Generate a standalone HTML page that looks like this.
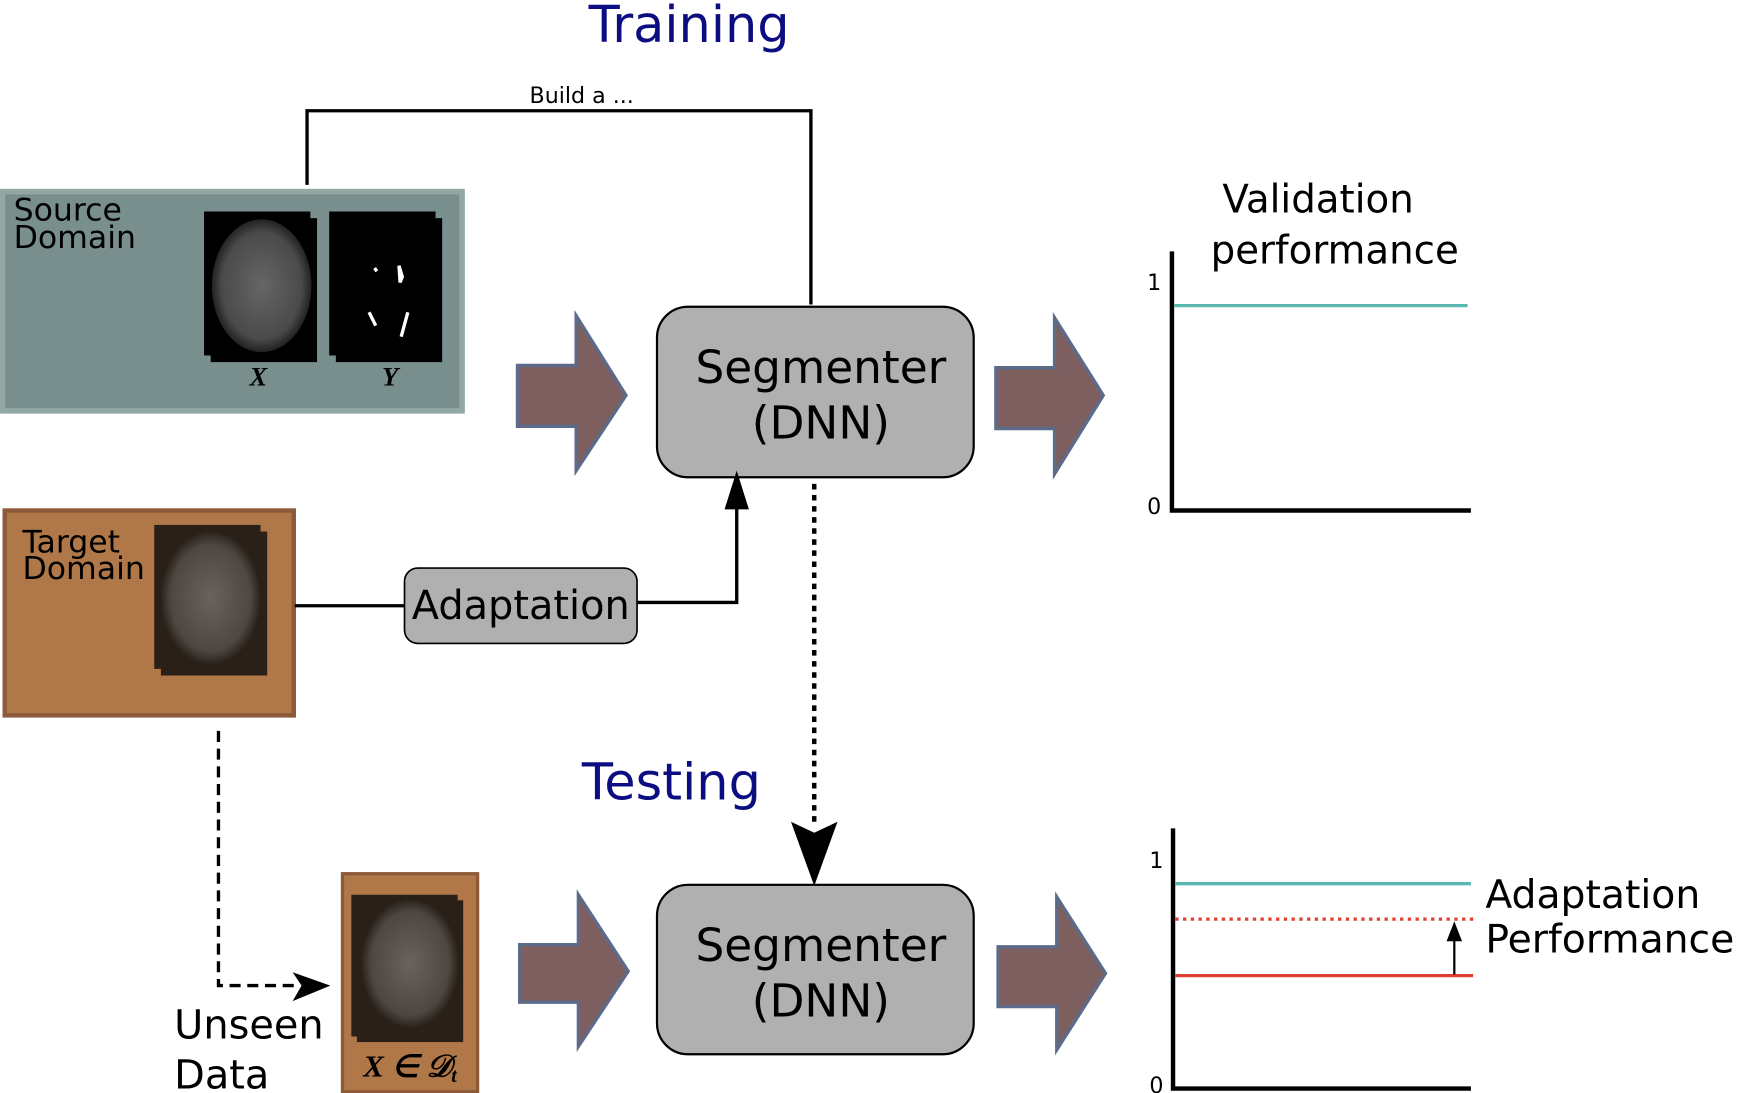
<!DOCTYPE html>
<html><head><meta charset="utf-8"><style>html,body{margin:0;padding:0;background:#fff}svg{display:block}</style></head>
<body>
<svg width="1737" height="1093" viewBox="0 0 1568 987" xmlns="http://www.w3.org/2000/svg" font-family="DejaVu Sans, Liberation Sans, sans-serif">
<defs>
<radialGradient id="br" cx="50%" cy="50%" r="50%"><stop offset="0" stop-color="#666"/><stop offset="0.8" stop-color="#4a4a4a"/><stop offset="1" stop-color="#222"/></radialGradient>
<radialGradient id="brt" cx="50%" cy="50%" r="50%"><stop offset="0" stop-color="#6a625c"/><stop offset="0.8" stop-color="#4e4740"/><stop offset="1" stop-color="#2a221c"/></radialGradient>
</defs>
<text x="622" y="38" font-size="46" fill="#0d0d82" text-anchor="middle">Training</text>
<text x="525" y="93" font-size="20" text-anchor="middle">Build a ...</text>
<path d="M277,167V100H732V275" fill="none" stroke="#000" stroke-width="3"/>
<rect x="2" y="173" width="415" height="198" fill="#788f8e" stroke="#93a8a5" stroke-width="5"/>
<text x="12" y="199" font-size="28.5">Source</text><text x="12" y="224" font-size="28.5">Domain</text>
<rect x="190" y="197" width="96" height="130" fill="#000"/><rect x="184" y="191" width="96" height="130" fill="#000"/>
<ellipse cx="236" cy="258" rx="45" ry="60" fill="url(#br)"/>
<rect x="303" y="197" width="96" height="130" fill="#000"/><rect x="297" y="191" width="96" height="130" fill="#000"/>
<path d="M360,240l3,10l-2,5zM338,242l2,3M333,282l6,12M368,282l-6,22" stroke="#fff" stroke-width="3" fill="none"/>
<text x="233" y="348" font-size="24" font-weight="bold" font-style="italic" font-family="Liberation Serif, serif" text-anchor="middle">X</text>
<text x="352" y="348" font-size="24" font-weight="bold" font-style="italic" font-family="Liberation Serif, serif" text-anchor="middle">Y</text>
<g fill="#7d5f5f" stroke="#5d6b8a" stroke-width="3">
<path d="M467,330H520V285L565,357L520,425V385H467Z"/>
<path d="M899,332H952V287L996,357L952,428V387H899Z"/>
<path d="M469,853H522V808L567,877L522,945V905H469Z"/>
<path d="M901,855H954V810L998,879L954,948V909H901Z"/>
</g>
<rect x="593" y="277" width="286" height="154" rx="28" fill="#b0b0b0" stroke="#000" stroke-width="2"/>
<text x="741" y="346" font-size="41" text-anchor="middle">Segmenter</text>
<text x="741" y="396" font-size="41" text-anchor="middle">(DNN)</text>
<text x="1190" y="192" font-size="35" text-anchor="middle">Validation</text>
<text x="1205" y="238" font-size="35" text-anchor="middle">performance</text>
<path d="M1058,227V461H1328" fill="none" stroke="#000" stroke-width="4"/>
<text x="1042" y="262" font-size="20" text-anchor="middle">1</text>
<text x="1042" y="464" font-size="20" text-anchor="middle">0</text>
<line x1="1060" y1="276" x2="1325" y2="276" stroke="#5bb8b0" stroke-width="3"/>
<rect x="4" y="461" width="261" height="185" fill="#b07848" stroke="#8c5a38" stroke-width="4"/>
<text x="20" y="499" font-size="28.5">Target</text><text x="20" y="523" font-size="28.5">Domain</text>
<rect x="145" y="480" width="96" height="130" fill="#2b2018"/><rect x="139" y="474" width="96" height="130" fill="#2b2018"/>
<ellipse cx="190" cy="540" rx="45" ry="60" fill="url(#brt)"/>
<line x1="266" y1="547" x2="365" y2="547" stroke="#000" stroke-width="3"/>
<rect x="365" y="513" width="210" height="68" rx="12" fill="#b0b0b0" stroke="#000" stroke-width="1.5"/>
<text x="470" y="559" font-size="36" text-anchor="middle">Adaptation</text>
<path d="M575,544H665V450" fill="none" stroke="#000" stroke-width="3"/>
<path d="M665,425L654,460L676,460Z"/>
<line x1="735" y1="437" x2="735" y2="745" stroke="#000" stroke-width="4" stroke-dasharray="5,5"/>
<path d="M714,742L735,800L756,742L735,752Z"/>
<text x="606" y="722" font-size="46" fill="#0d0d82" text-anchor="middle">Testing</text>
<path d="M197,660V890H270" fill="none" stroke="#000" stroke-width="3" stroke-dasharray="10,6"/>
<path d="M298,890L264,878L272,890L264,904Z"/>
<text x="157" y="938" font-size="36">Unseen</text><text x="157" y="983" font-size="36">Data</text>
<rect x="309" y="789" width="122" height="197" fill="#b07848" stroke="#8c5a38" stroke-width="3"/>
<rect x="322" y="813" width="96" height="128" fill="#2b2018"/><rect x="317" y="808" width="96" height="128" fill="#2b2018"/>
<ellipse cx="370" cy="870" rx="44" ry="58" fill="url(#brt)"/>
<text x="370" y="972" font-size="28" font-weight="bold" font-style="italic" font-family="Liberation Serif, serif" text-anchor="middle">X ∈ 𝒟<tspan font-size="18" dy="5">t</tspan></text>
<rect x="593" y="799" width="286" height="153" rx="28" fill="#b0b0b0" stroke="#000" stroke-width="2"/>
<text x="741" y="868" font-size="41" text-anchor="middle">Segmenter</text>
<text x="741" y="918" font-size="41" text-anchor="middle">(DNN)</text>
<path d="M1059,748V983H1328" fill="none" stroke="#000" stroke-width="4"/>
<text x="1044" y="784" font-size="20" text-anchor="middle">1</text>
<text x="1044" y="987" font-size="20" text-anchor="middle">0</text>
<line x1="1061" y1="798" x2="1328" y2="798" stroke="#5bb8b0" stroke-width="3"/>
<line x1="1061" y1="830" x2="1330" y2="830" stroke="#e04030" stroke-width="3" stroke-dasharray="3,4"/>
<line x1="1061" y1="881" x2="1330" y2="881" stroke="#e04030" stroke-width="3"/>
<line x1="1313" y1="880" x2="1313" y2="845" stroke="#000" stroke-width="2"/>
<path d="M1313,832L1306,850L1320,850Z"/>
<text x="1341" y="820" font-size="35.5">Adaptation</text>
<text x="1341" y="860" font-size="35.5">Performance</text>
</svg>
</body></html>
